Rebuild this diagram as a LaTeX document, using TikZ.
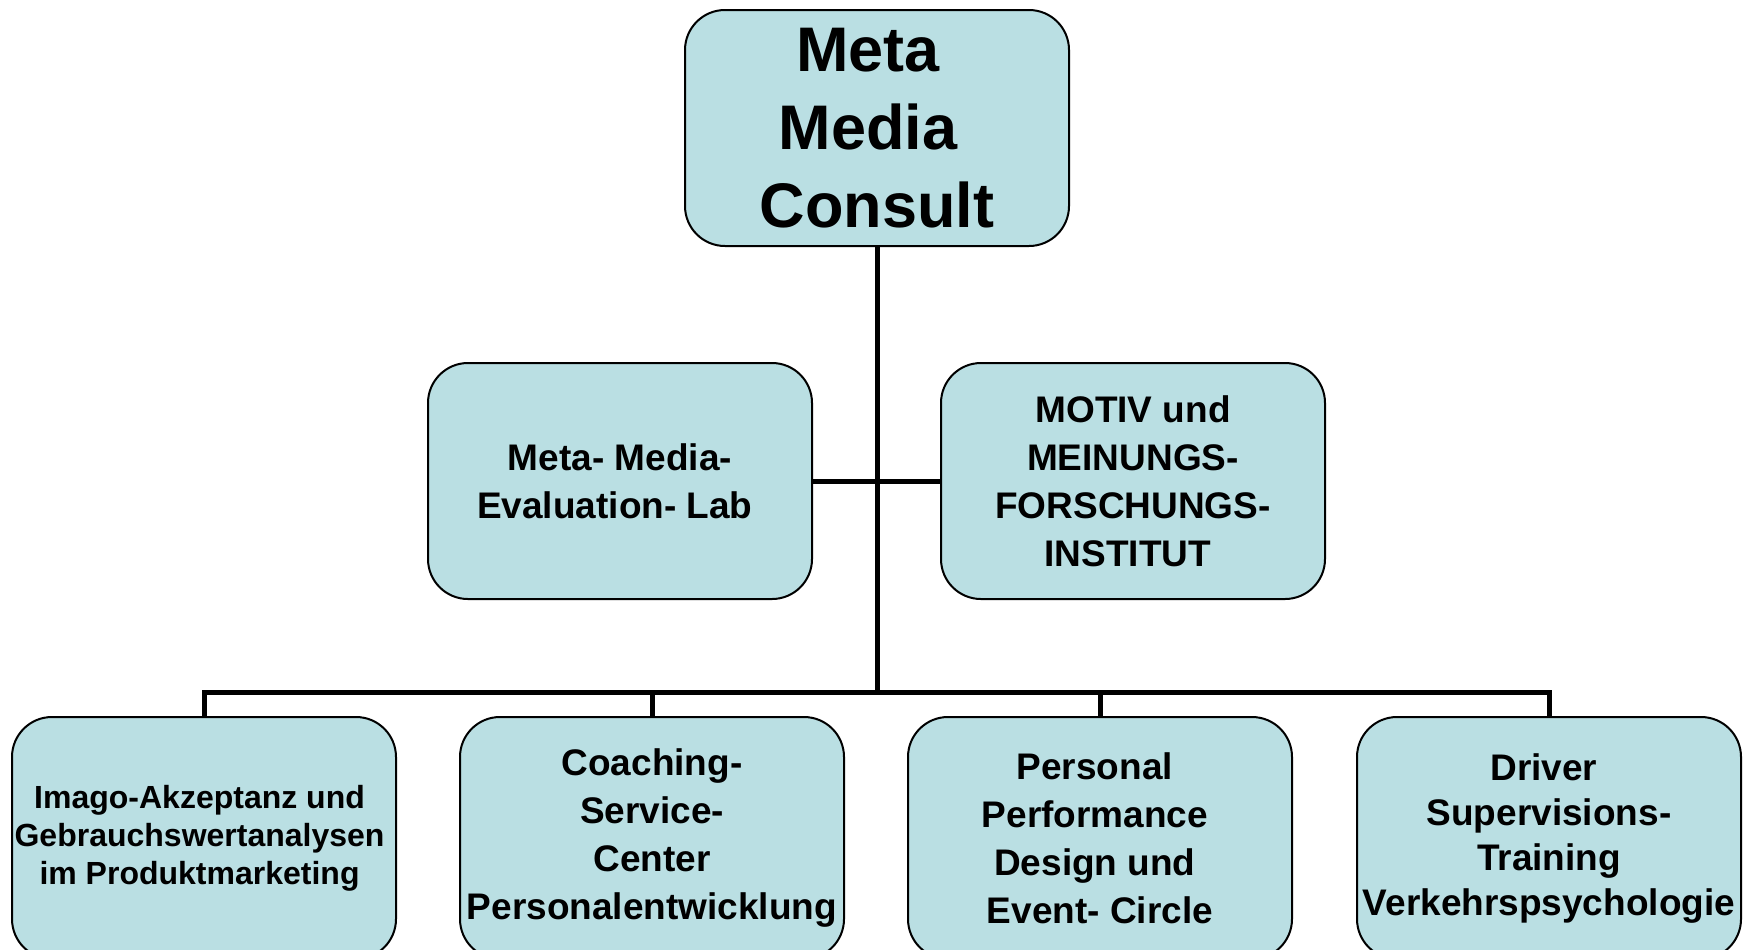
\documentclass[tikz,border=0pt]{standalone}
\usepackage{fontspec}
\setmainfont{Liberation Sans}
\usetikzlibrary{positioning}
\definecolor{boxfill}{RGB}{186,223,227}
\newcommand{\tsp}{\kern0.278em}

\begin{document}
\begin{tikzpicture}[x=0.5pt, y=-0.5pt,
  unit/.style = {draw, line width=1pt, fill=boxfill, rounded corners=20pt, minimum width=192pt, minimum height=118pt, inner sep=0pt, align=center, font=\bfseries\fontsize{18.5}{24}\selectfont},
  lowunit/.style = {unit, minimum height=121pt},
  link/.style = {line width=2.5pt}]
\useasboundingbox (0,0) rectangle (1744,949);
\clip (0,0) rectangle (1744,949);
\node[unit, font=\bfseries\fontsize{31.5}{39}\selectfont] (mmc) at (877,128) {Meta\tsp\\ Media\tsp\\ Consult};
\node[unit] (lab) at (620,481) {Meta- Media-\\ Evaluation- Lab\tsp};
\node[unit] (motiv) at (1133,481) {MOTIV und\\ MEINUNGS-\\ FORSCHUNGS-\\ INSTITUT\tsp};
\node[lowunit, font=\bfseries\fontsize{16}{19}\selectfont] (imago) at (204,838) {Imago-Akzeptanz und\tsp\\ Gebrauchswertanalysen\tsp\\ im Produktmarketing\tsp};
\node[lowunit] (coach) at (652,838) {Coaching-\\ Service-\\ Center\\ Personalentwicklung};
\node[lowunit] (perf) at (1100,838) {Personal\tsp\\ Performance\tsp\\ Design und\tsp\\ Event- Circle};
\node[lowunit, font=\bfseries\fontsize{18.5}{22.5}\selectfont] (driver) at (1549,838) {Driver\tsp\\ Supervisions-\\ Training\\ Verkehrspsychologie};
\coordinate (bus) at (877,692);
\draw[link] (mmc.south) -- (bus);
\draw[link] (lab.east) -- (motiv.west);
\draw[link] (bus) -| (imago.north);
\draw[link] (bus) -| (coach.north);
\draw[link] (bus) -| (perf.north);
\draw[link] (bus) -| (driver.north);
\end{tikzpicture}
\end{document}
